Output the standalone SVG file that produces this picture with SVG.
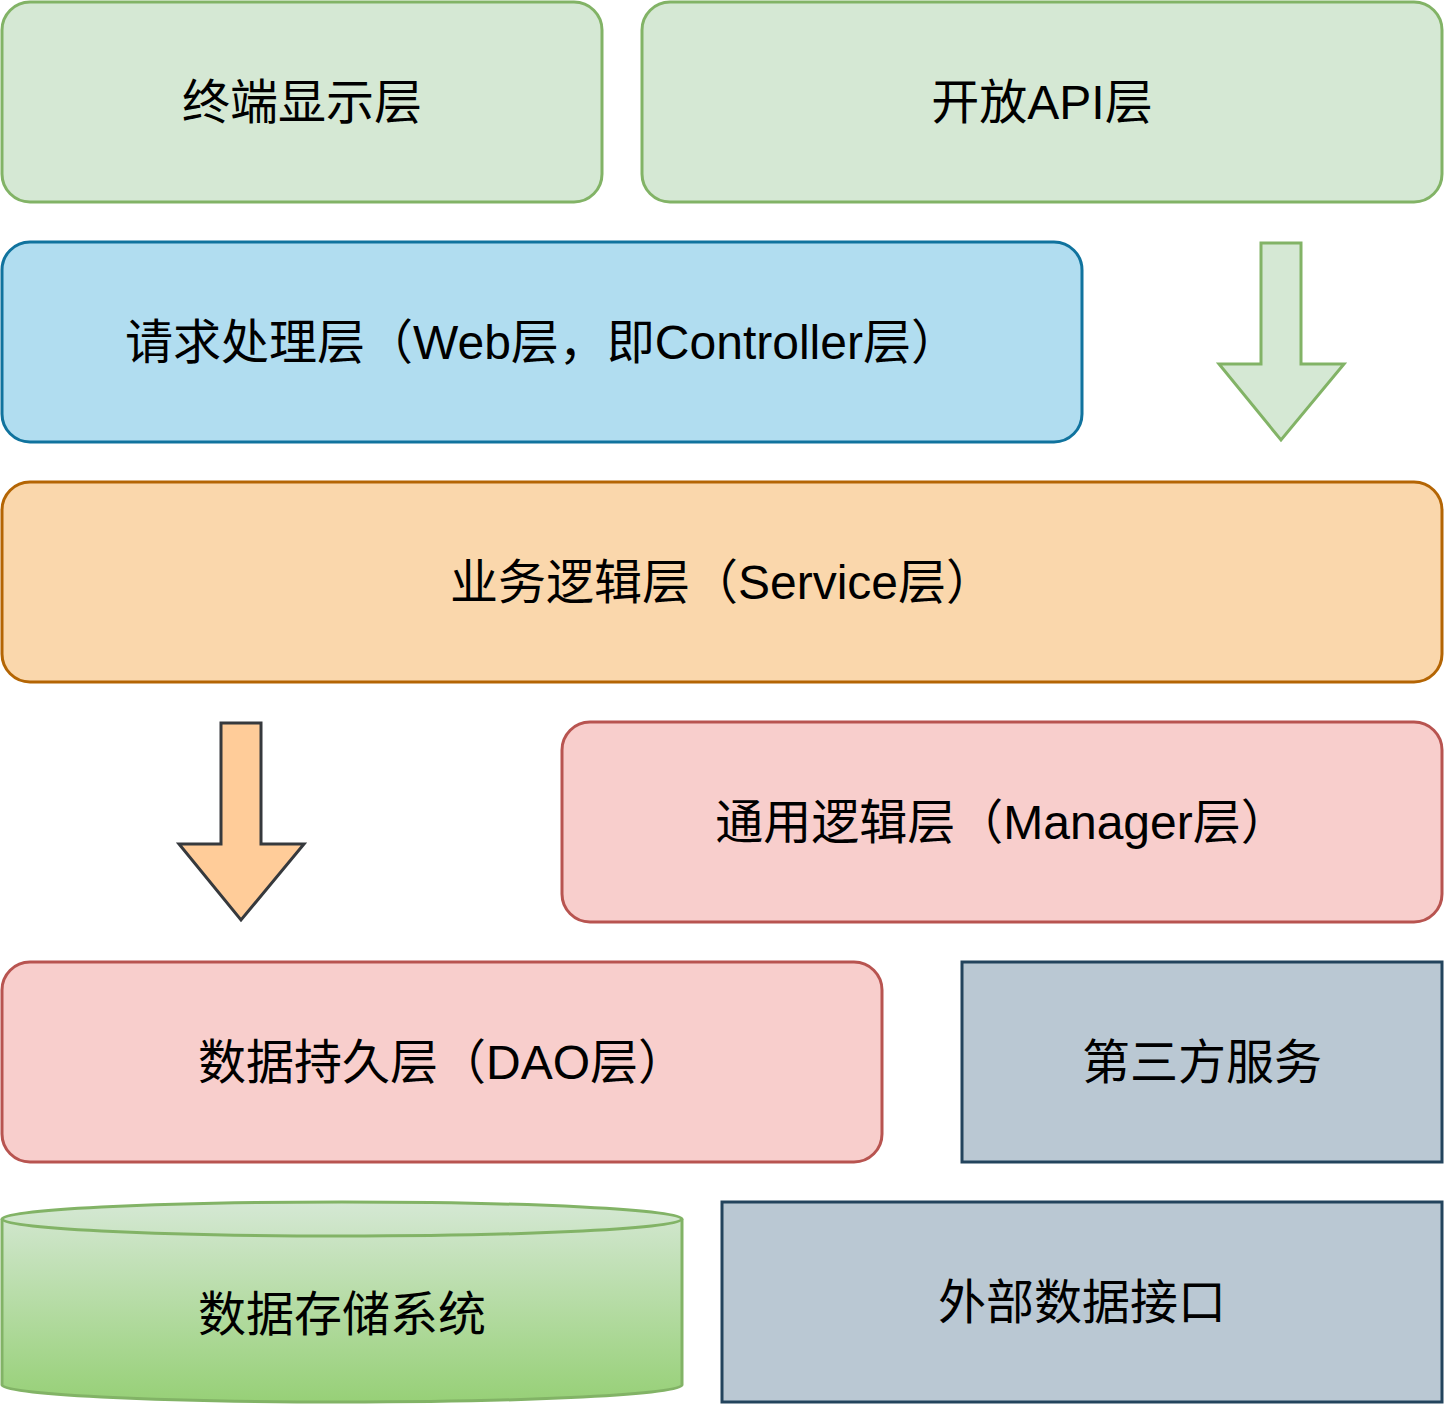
<svg xmlns="http://www.w3.org/2000/svg" width="1448" height="1408" viewBox="0 0 1448 1408">
<defs>
<style>
text{font-family:"Liberation Sans","Noto Sans CJK SC",sans-serif;font-size:48px;fill:#000;text-anchor:middle}
.g{fill:#d5e8d4;stroke:#82b366;stroke-width:3}
.b{fill:#b1ddf0;stroke:#10739e;stroke-width:3}
.o{fill:#fad7ac;stroke:#b46504;stroke-width:3}
.r{fill:#f8cecc;stroke:#b85450;stroke-width:3}
.s{fill:#bac8d3;stroke:#23445d;stroke-width:3}
</style>
<linearGradient id="cyl" x1="0" y1="0" x2="0" y2="1">
<stop offset="0" stop-color="#d5e8d4"/>
<stop offset="1" stop-color="#97d077"/>
</linearGradient>
</defs>
<rect width="1448" height="1408" fill="#fff"/>
<g id="terminal"><rect class="g" x="2" y="2" width="600" height="200" rx="28"/><text x="302" y="119">终端显示层</text></g>
<g id="openapi"><rect class="g" x="642" y="2" width="800" height="200" rx="28"/><text x="1042" y="119">开放API层</text></g>
<g id="web"><rect class="b" x="2" y="242" width="1080" height="200" rx="28"/><text x="542" y="359">请求处理层（Web层，即Controller层）</text></g>
<g id="service"><rect class="o" x="2" y="482" width="1440" height="200" rx="28"/><text x="722" y="599">业务逻辑层（Service层）</text></g>
<g id="manager"><rect class="r" x="562" y="722" width="880" height="200" rx="28"/><text x="1002" y="839">通用逻辑层（Manager层）</text></g>
<g id="dao"><rect class="r" x="2" y="962" width="880" height="200" rx="28"/><text x="442" y="1079">数据持久层（DAO层）</text></g>
<g id="thirdparty"><rect class="s" x="962" y="962" width="480" height="200"/><text x="1202" y="1079">第三方服务</text></g>
<g id="external"><rect class="s" x="722" y="1202" width="720" height="200"/><text x="1082" y="1319">外部数据接口</text></g>
<g id="storage">
<path d="M2,1219 A340,17 0 0 1 682,1219 L682,1385 A340,17 0 0 1 2,1385 Z" fill="url(#cyl)" stroke="#82b366" stroke-width="3"/>
<path d="M2,1219 A340,17 0 0 0 682,1219" fill="none" stroke="#82b366" stroke-width="3"/>
<text x="342" y="1331">数据存储系统</text>
</g>
<g id="connectors">
<path d="M1261,243 L1301,243 L1301,364 L1344,364 L1281,440 L1219,364 L1261,364 Z" fill="#d5e8d4" stroke="#82b366" stroke-width="3" stroke-linejoin="miter"/>
<path d="M221,723 L261,723 L261,844 L304,844 L241,920 L179,844 L221,844 Z" fill="#ffcc99" stroke="#36393d" stroke-width="3"/>
</g>
</svg>
